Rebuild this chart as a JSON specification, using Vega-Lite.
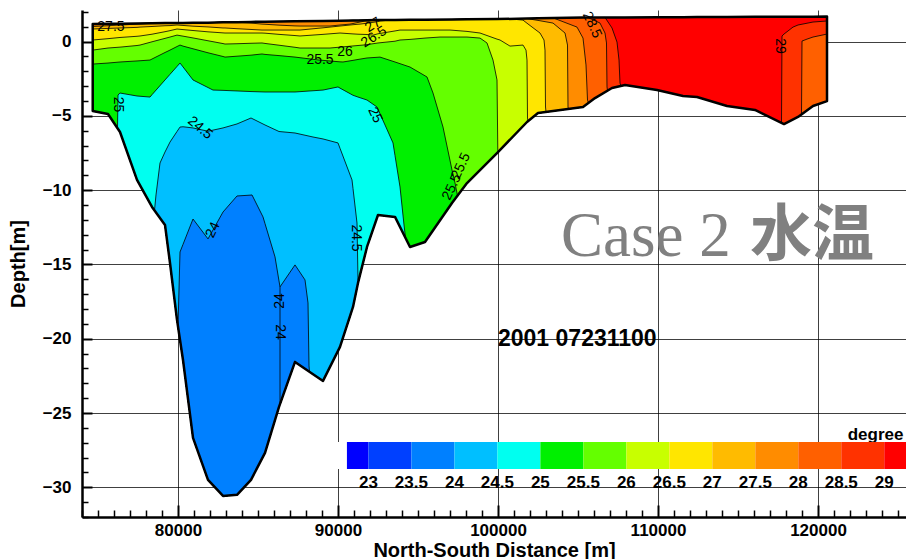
{
"$schema": "https://vega.github.io/schema/vega-lite/v6.json",
"width": 824, "height": 507,
"autosize": "none",
"padding": {"left": 82, "top": 10, "right": 0, "bottom": 42},
"config": {"view": {"stroke": null}, "font": "Liberation Sans"},
"datasets": {
"g": [
{"x":74670,"bot":-4.67,"d":1.18,"a29":1.18,"a285":1.18,"a28":1.18,"a275":1.02,"a27":0.85,"a265":0.11,"a26":-0.57,"a255":-1.51},
{"x":75625,"bot":-4.87,"d":1.2,"a29":1.2,"a285":1.2,"a28":1.2,"a275":1.07,"a27":0.89,"a265":0.2,"a26":-0.43,"a255":-1.44},
{"x":76219,"bot":-5.83,"a25":-5.83},
{"x":76250,"bot":-5.88,"a25":-3.59},
{"x":76375,"bot":-6.08,"d":1.21,"a29":1.21,"a285":1.21,"a28":1.21,"a275":1.12,"a27":0.92,"a265":0.28,"a26":-0.37,"a255":-1.37,"a25":-3.46},
{"x":77438,"bot":-9.31,"d":1.22,"a29":1.22,"a285":1.22,"a28":1.22,"a275":1.18,"a27":0.96,"a265":0.36,"a26":-0.26,"a255":-1.3,"a25":-3.66},
{"x":77625,"bot":-9.68,"a27":0.98,"a265":0.38,"a26":-0.23},
{"x":78250,"bot":-10.89,"a275":1.23,"a255":-1.24,"a25":-3.73},
{"x":78375,"bot":-11.13,"d":1.23,"a29":1.23,"a285":1.23,"a28":1.23,"a275":1.23,"a27":1.02,"a265":0.5,"a26":-0.01,"a255":-1.17,"a25":-3.57},
{"x":78531,"bot":-11.37,"a245":-11.37},
{"x":78625,"bot":-11.5,"a245":-10.32},
{"x":78875,"bot":-11.88,"a245":-8.17},
{"x":79188,"bot":-12.34,"d":1.25,"a29":1.25,"a285":1.25,"a28":1.25,"a275":1.25,"a27":1.07,"a265":0.67,"a26":0.22,"a255":-0.73,"a25":-2.58,"a245":-7.43},
{"x":79500,"bot":-14.9,"d":1.25,"a29":1.25,"a285":1.25,"a28":1.25,"a275":1.25,"a27":1.08,"a265":0.74,"a26":0.31,"a255":-0.57,"a25":-2.2,"a245":-6.76},
{"x":79938,"bot":-18.73,"d":1.25,"a29":1.25,"a285":1.25,"a28":1.25,"a275":1.25,"a27":1.12,"a265":0.85,"a26":0.44,"a255":-0.33,"a25":-1.67,"a245":-6.05},
{"x":80000,"bot":-19.18,"a24":-19.18},
{"x":80125,"bot":-20.08,"a255":-0.23,"a25":-1.44,"a245":-5.75,"a24":-14.16},
{"x":80313,"bot":-21.43,"d":1.26,"a29":1.26,"a285":1.26,"a28":1.26,"a275":1.26,"a27":1.09,"a265":0.81,"a26":0.37,"a255":-0.3,"a25":-1.7,"a245":-5.73,"a24":-13.65},
{"x":80938,"bot":-26.67,"d":1.27,"a29":1.27,"a285":1.27,"a28":1.27,"a275":1.27,"a27":1.04,"a265":0.75,"a26":0.25,"a255":-0.48,"a25":-2.58,"a245":-5.81,"a24":-11.94},
{"x":81875,"bot":-29.5,"d":1.28,"a29":1.28,"a285":1.28,"a28":1.28,"a275":1.28,"a27":0.99,"a265":0.66,"a26":0.06,"a255":-0.75,"a25":-3.09,"a245":-6.03,"a24":-13.28},
{"x":82188,"bot":-29.86,"a25":-3.26},
{"x":82813,"bot":-30.58,"d":1.3,"a29":1.3,"a285":1.3,"a28":1.3,"a275":1.3,"a27":0.92,"a265":0.59,"a26":-0.13,"a255":-1.0,"a25":-3.28,"a245":-5.81,"a24":-11.47},
{"x":82938,"bot":-30.57,"a27":0.92,"a265":0.58,"a26":-0.16,"a255":-1.04},
{"x":83688,"bot":-30.51,"d":1.31,"a29":1.31,"a285":1.31,"a28":1.31,"a275":1.31,"a27":0.87,"a265":0.58,"a26":-0.14,"a255":-0.98,"a25":-3.32,"a245":-5.54,"a24":-10.39},
{"x":84563,"bot":-29.5,"d":1.33,"a29":1.33,"a285":1.33,"a28":1.33,"a275":1.25,"a27":0.82,"a265":0.58,"a26":-0.11,"a255":-0.91,"a25":-3.36,"a245":-5.14,"a24":-10.33},
{"x":84625,"bot":-29.37,"a24":-10.32},
{"x":85250,"bot":-28.07,"a275":1.18,"a27":0.78,"a265":0.58,"a26":-0.09,"a255":-0.83},
{"x":85313,"bot":-27.95,"a24":-11.8},
{"x":85438,"bot":-27.68,"d":1.34,"a29":1.34,"a285":1.34,"a28":1.34,"a275":1.17,"a27":0.78,"a265":0.57,"a26":-0.12,"a255":-0.86,"a25":-3.39,"a245":-5.61,"a24":-12.25},
{"x":86063,"bot":-25.47,"a24":-14.49},
{"x":86313,"bot":-24.59,"d":1.35,"a29":1.35,"a285":1.35,"a28":1.35,"a275":1.11,"a27":0.78,"a265":0.49,"a26":-0.24,"a255":-0.94,"a25":-3.39,"a245":-6.05,"a24":-16.11},
{"x":86375,"bot":-24.4,"a24":-16.51},
{"x":87313,"bot":-21.56,"d":1.37,"a29":1.37,"a285":1.37,"a28":1.37,"a275":1.06,"a27":0.78,"a265":0.41,"a26":-0.38,"a255":-1.04,"a25":-3.39,"a245":-6.15,"a24":-15.03},
{"x":87625,"bot":-21.79,"a275":1.05,"a27":0.78,"a265":0.38,"a26":-0.43},
{"x":87938,"bot":-22.02,"a24":-16.04},
{"x":88125,"bot":-22.15,"a24":-17.59},
{"x":88188,"bot":-22.2,"a24":-21.83},
{"x":88219,"bot":-22.22,"a24":-22.22},
{"x":88438,"bot":-22.38,"a245":-6.42},
{"x":88813,"bot":-22.66,"a255":-1.24},
{"x":89063,"bot":-22.84,"d":1.39,"a29":1.39,"a285":1.39,"a28":1.39,"a275":1.05,"a27":0.93,"a265":0.49,"a26":-0.43,"a255":-1.26,"a25":-3.26,"a245":-6.55},
{"x":89500,"bot":-21.9,"a275":1.05,"a27":0.98,"a26":-0.43},
{"x":90000,"bot":-20.82,"a25":-3.05,"a245":-6.82},
{"x":90125,"bot":-20.55,"d":1.41,"a29":1.41,"a285":1.41,"a28":1.41,"a275":1.12,"a27":1.05,"a265":0.58,"a26":-0.37,"a255":-1.36,"a25":-3.13,"a245":-7.18},
{"x":90313,"bot":-19.93,"a255":-1.37},
{"x":90750,"bot":-18.48,"a275":1.18},
{"x":90875,"bot":-18.07,"a245":-9.31},
{"x":90938,"bot":-17.86,"d":1.43,"a29":1.43,"a285":1.43,"a28":1.43,"a275":1.22,"a27":1.14,"a265":0.52,"a26":-0.29,"a255":-1.26,"a25":-3.61,"a245":-9.89},
{"x":91188,"bot":-16.57,"a245":-12.21},
{"x":91250,"bot":-16.24,"d":1.43,"a29":1.43,"a285":1.43,"a28":1.43,"a275":1.29,"a27":1.17,"a265":0.5,"a26":-0.26,"a255":-1.2,"a25":-3.73,"a245":-16.04},
{"x":91281,"bot":-16.11,"a245":-16.11},
{"x":91375,"bot":-15.71,"a27":1.18},
{"x":91563,"bot":-14.9,"a26":-0.23},
{"x":91688,"bot":-14.36,"a275":1.39},
{"x":91813,"bot":-13.82,"d":1.44,"a29":1.44,"a285":1.44,"a28":1.44,"a275":1.39,"a27":1.24,"a265":0.48,"a26":-0.2,"a255":-1.1,"a25":-3.93},
{"x":92188,"bot":-12.64,"a265":0.44},
{"x":92438,"bot":-11.86,"a25":-4.4},
{"x":92500,"bot":-11.67,"d":1.45,"a29":1.45,"a285":1.45,"a28":1.45,"a275":1.45,"a27":1.35,"a265":0.53,"a26":-0.09,"a255":-1.05,"a25":-4.56},
{"x":92625,"bot":-11.68,"a27":1.39,"a255":-1.04},
{"x":92938,"bot":-11.72,"a25":-5.61},
{"x":93250,"bot":-11.76,"a27":1.45},
{"x":93438,"bot":-11.79,"a25":-6.82},
{"x":93563,"bot":-11.8,"d":1.46,"a29":1.46,"a285":1.46,"a28":1.46,"a275":1.46,"a27":1.46,"a265":0.72,"a26":0.03,"a255":-1.37,"a25":-7.67},
{"x":93875,"bot":-12.48,"a265":0.78,"a26":0.11,"a25":-9.78},
{"x":94125,"bot":-13.01,"a25":-12.34},
{"x":94219,"bot":-13.22,"a25":-13.22},
{"x":94500,"bot":-13.82,"d":1.47,"a29":1.47,"a285":1.47,"a28":1.47,"a275":1.47,"a27":1.47,"a265":0.78,"a26":0.15,"a255":-1.71},
{"x":95438,"bot":-13.49,"d":1.48,"a29":1.48,"a285":1.48,"a28":1.48,"a275":1.48,"a27":1.48,"a265":0.78,"a26":0.24,"a255":-2.3},
{"x":95563,"bot":-13.29,"a255":-2.38},
{"x":95938,"bot":-12.7,"a255":-3.46},
{"x":96375,"bot":-12.03,"a26":0.31},
{"x":96563,"bot":-11.74,"a255":-5.75},
{"x":97000,"bot":-11.06,"a265":0.78},
{"x":97125,"bot":-10.86,"d":1.49,"a29":1.49,"a285":1.49,"a28":1.49,"a275":1.49,"a27":1.49,"a265":0.77,"a26":0.31,"a255":-8.64},
{"x":97313,"bot":-10.59,"a255":-9.51},
{"x":97469,"bot":-10.37,"a255":-10.37},
{"x":98063,"bot":-9.52,"d":1.5,"a29":1.5,"a285":1.5,"a28":1.5,"a275":1.5,"a27":1.5,"a265":0.69,"a26":0.31},
{"x":98875,"bot":-8.64,"a265":0.58,"a26":0.24},
{"x":99313,"bot":-8.17,"a26":-0.09},
{"x":99688,"bot":-7.77,"a26":-1.24},
{"x":99938,"bot":-7.5,"d":1.52,"a29":1.52,"a285":1.52,"a28":1.52,"a275":1.52,"a27":1.52,"a265":0.17,"a26":-2.58},
{"x":99988,"bot":-7.44,"a26":-7.29},
{"x":100019,"bot":-7.41,"a26":-7.41},
{"x":100125,"bot":-7.29,"a265":0.11},
{"x":100750,"bot":-6.59,"a27":1.53,"a265":-0.3},
{"x":101563,"bot":-5.69,"a27":1.45,"a265":-0.23},
{"x":101750,"bot":-5.48,"a265":-0.57},
{"x":101813,"bot":-5.41,"d":1.55,"a29":1.55,"a285":1.55,"a28":1.55,"a275":1.55,"a27":1.24,"a265":-1.24},
{"x":101844,"bot":-5.38,"a265":-5.14},
{"x":101875,"bot":-5.36,"a265":-5.36},
{"x":102500,"bot":-4.81,"d":1.57,"a29":1.57,"a285":1.57,"a28":1.57,"a275":1.43,"a27":0.68},
{"x":102625,"bot":-4.78,"a27":0.58},
{"x":102875,"bot":-4.75,"a27":0.11},
{"x":102938,"bot":-4.74,"a27":-0.57},
{"x":102969,"bot":-4.74,"a27":-4.4},
{"x":103000,"bot":-4.73,"a27":-4.73},
{"x":103438,"bot":-4.67,"a28":1.6,"a275":1.25},
{"x":104188,"bot":-4.56,"a275":0.58},
{"x":104344,"bot":-4.54,"a275":-0.23},
{"x":104375,"bot":-4.54,"a275":-4.4},
{"x":104406,"bot":-4.53,"a275":-4.53},
{"x":104938,"bot":-4.46,"a28":0.98},
{"x":105313,"bot":-4.4,"d":1.62,"a29":1.62,"a285":1.62,"a28":0.24},
{"x":105500,"bot":-4.25,"a28":-1.57},
{"x":105594,"bot":-4.17,"a28":-3.93},
{"x":105625,"bot":-4.15,"a285":1.62},
{"x":105656,"bot":-4.13,"a28":-4.13},
{"x":106063,"bot":-3.8,"d":1.62,"a29":1.62,"a285":1.41},
{"x":106375,"bot":-3.6,"a285":1.25},
{"x":106688,"bot":-3.4,"a29":1.63,"a285":0.58},
{"x":106781,"bot":-3.34,"a285":-0.09},
{"x":106813,"bot":-3.32,"a285":-3.05},
{"x":106844,"bot":-3.3,"a285":-3.3},
{"x":107125,"bot":-3.12,"d":1.63,"a29":0.92},
{"x":107438,"bot":-3.04,"a29":-0.03},
{"x":107563,"bot":-3.02,"a29":-1.24},
{"x":107625,"bot":-3.0,"a29":-2.79},
{"x":107688,"bot":-2.98,"a29":-2.98},
{"x":107938,"bot":-2.92,"d":1.63},
{"x":109938,"bot":-3.26,"d":1.64},
{"x":111563,"bot":-3.66,"d":1.65},
{"x":112438,"bot":-3.73,"d":1.66},
{"x":114313,"bot":-4.33,"d":1.66},
{"x":116063,"bot":-4.6,"d":1.67},
{"x":117719,"bot":-5.46,"b29":-5.46},
{"x":117750,"bot":-5.48,"b29":0.38},
{"x":117875,"bot":-5.55,"d":1.68,"b29":0.51},
{"x":118438,"bot":-5.24,"b29":0.98},
{"x":118750,"bot":-5.07,"d":1.68,"b29":1.12},
{"x":118969,"bot":-4.9,"b285":-4.9},
{"x":119000,"bot":-4.88,"b285":0.04},
{"x":119313,"bot":-4.63,"b285":0.17},
{"x":119688,"bot":-4.33,"d":1.68,"b29":1.32,"b285":0.31},
{"x":120563,"bot":-4.0,"d":1.69,"b29":1.39,"b285":0.51}
]
},
"resolve": {"axis": {"x": "independent", "y": "independent"}},
"layer": [
{
"data": {"name": "g"},
"transform": [
{"fold": ["d","a29","a285","a28","a275","a27","a265","a26","a255","a25","a245","a24","b29"], "as": ["key","top"]},
{"filter": "isValid(datum.top)"},
{"lookup": "key", "from": {"data": {"values": [
{"key":"d","t":29},{"key":"a29","t":28.5},{"key":"a285","t":28},{"key":"a28","t":27.5},{"key":"a275","t":27},{"key":"a27","t":26.5},{"key":"a265","t":26},{"key":"a26","t":25.5},{"key":"a255","t":25},{"key":"a25","t":24.5},{"key":"a245","t":24},{"key":"a24","t":23.5},{"key":"b29","t":28.5}
]}, "key": "key", "fields": ["t"]}}
],
"mark": {"type": "area", "stroke": "black", "strokeWidth": 0.8, "interpolate": "linear"},
"encoding": {
"x": {"field": "x", "type": "quantitative", "scale": {"domain": [74000, 125500], "nice": false, "zero": false},
 "axis": {"orient": "bottom", "values": [80000, 90000, 100000, 110000, 120000], "format": "d",
  "title": "North-South Distance [m]", "titleFont": "Liberation Sans", "titleFontSize": 20, "titleFontWeight": "bold", "titleColor": "black", "titlePadding": 2,
  "labelFont": "Liberation Sans", "labelFontSize": 17, "labelFontWeight": "bold", "labelColor": "black", "labelPadding": 17, "labelFlush": false, "labelOverlap": false,
  "tickSize": -12, "tickWidth": 2, "tickColor": "black", "domainColor": "black", "domainWidth": 2.5,
  "grid": true, "gridColor": "black", "gridWidth": 1, "gridOpacity": 0.75}},
"y": {"field": "top", "type": "quantitative", "stack": null, "scale": {"domain": [-32, 2.13], "nice": false, "zero": false},
 "axis": {"orient": "left", "values": [-30, -25, -20, -15, -10, -5, 0],
  "title": "Depth[m]", "titleFont": "Liberation Sans", "titleFontSize": 20, "titleFontWeight": "bold", "titleColor": "black", "titlePadding": 14,
  "labelFont": "Liberation Sans", "labelFontSize": 17, "labelFontWeight": "bold", "labelColor": "black", "labelPadding": 21, "labelFlush": false, "labelOverlap": false,
  "tickSize": -10, "tickWidth": 2, "tickColor": "black", "domainColor": "black", "domainWidth": 2.5,
  "grid": true, "gridColor": "black", "gridWidth": 1, "gridOpacity": 0.75}},
"y2": {"field": "bot"},
"detail": {"field": "key"},
"color": {"field": "t", "type": "quantitative",
 "scale": {"type": "threshold", "domain": [22.75, 23, 23.5, 24, 24.5, 25, 25.5, 26, 26.5, 27, 27.5, 28, 28.5, 29],
  "range": ["#ffffff", "#0000ff", "#0040ff", "#0080ff", "#00bfff", "#00fff0", "#00f000", "#64ff00", "#c8ff00", "#ffe600", "#ffbb00", "#ff8c00", "#ff6000", "#ff3200", "#ff0000"]},
 "legend": {"type": "gradient", "orient": "none", "legendX": 223.6, "legendY": 432, "direction": "horizontal", "title": null, "padding": 0,
  "gradientLength": 620, "gradientThickness": 27, "gradientStrokeWidth": 0,
  "format": "~g", "labelExpr": "datum.value < 22.9 ? '' : datum.label", "labelOverlap": false,
  "labelFont": "Liberation Sans", "labelFontSize": 17, "labelFontWeight": "bold", "labelColor": "black", "labelOffset": 6}}
}
},
{
"data": {"name": "g"},
"transform": [
{"fold": ["b285"], "as": ["key","top"]},
{"filter": "isValid(datum.top)"},
{"lookup": "key", "from": {"data": {"values": [{"key":"b285","t":28}]}, "key": "key", "fields": ["t"]}}
],
"mark": {"type": "area", "stroke": "black", "strokeWidth": 0.8, "interpolate": "linear"},
"encoding": {
"x": {"field": "x", "type": "quantitative", "scale": {"domain": [74000, 125500], "nice": false, "zero": false}, "axis": null},
"y": {"field": "top", "type": "quantitative", "stack": null, "scale": {"domain": [-32, 2.13], "nice": false, "zero": false}, "axis": null},
"y2": {"field": "bot"},
"color": {"field": "t", "type": "quantitative",
 "scale": {"type": "threshold", "domain": [22.75, 23, 23.5, 24, 24.5, 25, 25.5, 26, 26.5, 27, 27.5, 28, 28.5, 29],
  "range": ["#ffffff", "#0000ff", "#0040ff", "#0080ff", "#00bfff", "#00fff0", "#00f000", "#64ff00", "#c8ff00", "#ffe600", "#ffbb00", "#ff8c00", "#ff6000", "#ff3200", "#ff0000"]},
 "legend": null}
}
},
{
"data": {"name": "g"},
"transform": [{"filter": "isValid(datum.d)"}],
"mark": {"type": "area", "fillOpacity": 0, "stroke": "black", "strokeWidth": 2.5, "strokeJoin": "round", "interpolate": "linear"},
"encoding": {
"x": {"field": "x", "type": "quantitative", "scale": {"domain": [74000, 125500], "nice": false, "zero": false},
 "axis": {"orient": "bottom", "values": [74000,75000,76000,77000,78000,79000,81000,82000,83000,84000,85000,86000,87000,88000,89000,91000,92000,93000,94000,95000,96000,97000,98000,99000,101000,102000,103000,104000,105000,106000,107000,108000,109000,111000,112000,113000,114000,115000,116000,117000,118000,119000,121000,122000,123000,124000,125000],
  "labels": false, "title": null, "grid": false, "domain": false, "tickSize": -7, "tickWidth": 1.5, "tickColor": "black"}},
"y": {"field": "d", "type": "quantitative", "stack": null, "scale": {"domain": [-32, 2.13], "nice": false, "zero": false},
 "axis": {"orient": "left", "values": [-32,-31,-29,-28,-27,-26,-24,-23,-22,-21,-19,-18,-17,-16,-14,-13,-12,-11,-9,-8,-7,-6,-4,-3,-2,-1,1,2],
  "labels": false, "title": null, "grid": false, "domain": false, "tickSize": -6, "tickWidth": 1.5, "tickColor": "black"}},
"y2": {"field": "bot"}
}
},
{
"data": {"values": [{"x": 86375, "y": -16.51, "y2": -24.4}]},
"mark": {"type": "rule", "stroke": "black", "strokeWidth": 0.8},
"encoding": {
"x": {"field": "x", "type": "quantitative", "scale": {"domain": [74000, 125500], "nice": false, "zero": false}, "axis": null},
"y": {"field": "y", "type": "quantitative", "scale": {"domain": [-32, 2.13], "nice": false, "zero": false}, "axis": null},
"y2": {"field": "y2"}
}
},
{
"data": {"values": [{"x":76219,"y":-4.23,"label":"25"},{"x":86375,"y":-19.54,"label":"24"},{"x":91125,"y":-13.22,"label":"24.5"},{"x":117625,"y":-0.3,"label":"29"}]},
"mark": {"type": "text", "angle": 90, "font": "Liberation Sans", "fontSize": 14, "align": "center", "baseline": "middle", "color": "black"},
"encoding": {
"x": {"field": "x", "type": "quantitative", "scale": {"domain": [74000, 125500], "nice": false, "zero": false}, "axis": null},
"y": {"field": "y", "type": "quantitative", "scale": {"domain": [-32, 2.13], "nice": false, "zero": false}, "axis": null},
"text": {"field": "label"}
}
},
{
"data": {"values": [{"x":86375,"y":-17.46,"label":"24"}]},
"mark": {"type": "text", "angle": 270, "font": "Liberation Sans", "fontSize": 14, "align": "center", "baseline": "middle", "color": "black"},
"encoding": {
"x": {"field": "x", "type": "quantitative", "scale": {"domain": [74000, 125500], "nice": false, "zero": false}, "axis": null},
"y": {"field": "y", "type": "quantitative", "scale": {"domain": [-32, 2.13], "nice": false, "zero": false}, "axis": null},
"text": {"field": "label"}
}
},
{
"data": {"values": [{"x":75810,"y":0.98,"label":"27.5"},{"x":88875,"y":-1.24,"label":"25.5"},{"x":90438,"y":-0.7,"label":"26"}]},
"mark": {"type": "text", "angle": 0, "font": "Liberation Sans", "fontSize": 14, "align": "center", "baseline": "middle", "color": "black"},
"encoding": {
"x": {"field": "x", "type": "quantitative", "scale": {"domain": [74000, 125500], "nice": false, "zero": false}, "axis": null},
"y": {"field": "y", "type": "quantitative", "scale": {"domain": [-32, 2.13], "nice": false, "zero": false}, "axis": null},
"text": {"field": "label"}
}
},
{
"data": {"values": [{"x":92250,"y":0.31,"label":"26.5"},{"x":92188,"y":1.12,"label":"27"}]},
"mark": {"type": "text", "angle": -32, "font": "Liberation Sans", "fontSize": 14, "align": "center", "baseline": "middle", "color": "black"},
"encoding": {
"x": {"field": "x", "type": "quantitative", "scale": {"domain": [74000, 125500], "nice": false, "zero": false}, "axis": null},
"y": {"field": "y", "type": "quantitative", "scale": {"domain": [-32, 2.13], "nice": false, "zero": false}, "axis": null},
"text": {"field": "label"}
}
},
{
"data": {"values": [{"x":81375,"y":-5.81,"label":"24.5"}]},
"mark": {"type": "text", "angle": 40, "font": "Liberation Sans", "fontSize": 14, "align": "center", "baseline": "middle", "color": "black"},
"encoding": {
"x": {"field": "x", "type": "quantitative", "scale": {"domain": [74000, 125500], "nice": false, "zero": false}, "axis": null},
"y": {"field": "y", "type": "quantitative", "scale": {"domain": [-32, 2.13], "nice": false, "zero": false}, "axis": null},
"text": {"field": "label"}
}
},
{
"data": {"values": [{"x":82188,"y":-12.68,"label":"24"},{"x":97125,"y":-9.79,"label":"25.5"},{"x":97688,"y":-8.37,"label":"25.5"}]},
"mark": {"type": "text", "angle": -65, "font": "Liberation Sans", "fontSize": 14, "align": "center", "baseline": "middle", "color": "black"},
"encoding": {
"x": {"field": "x", "type": "quantitative", "scale": {"domain": [74000, 125500], "nice": false, "zero": false}, "axis": null},
"y": {"field": "y", "type": "quantitative", "scale": {"domain": [-32, 2.13], "nice": false, "zero": false}, "axis": null},
"text": {"field": "label"}
}
},
{
"data": {"values": [{"x":92313,"y":-4.94,"label":"25"},{"x":105875,"y":1.12,"label":"28.5"}]},
"mark": {"type": "text", "angle": 65, "font": "Liberation Sans", "fontSize": 14, "align": "center", "baseline": "middle", "color": "black"},
"encoding": {
"x": {"field": "x", "type": "quantitative", "scale": {"domain": [74000, 125500], "nice": false, "zero": false}, "axis": null},
"y": {"field": "y", "type": "quantitative", "scale": {"domain": [-32, 2.13], "nice": false, "zero": false}, "axis": null},
"text": {"field": "label"}
}
},
{
"data": {"values": [{"x":103940,"y":-14.45,"label":"Case 2"}]},
"mark": {"type": "text", "font": "Liberation Serif", "fontSize": 63, "align": "left", "baseline": "alphabetic", "color": "#808080"},
"encoding": {
"x": {"field": "x", "type": "quantitative", "scale": {"domain": [74000, 125500], "nice": false, "zero": false}, "axis": null},
"y": {"field": "y", "type": "quantitative", "scale": {"domain": [-32, 2.13], "nice": false, "zero": false}, "axis": null},
"text": {"field": "label"}
}
},
{
"data": {"values": [{"x":115750,"y":-14.45,"label":"水温"}]},
"mark": {"type": "text", "font": "Noto Sans CJK JP", "fontSize": 62, "fontWeight": "bold", "align": "left", "baseline": "alphabetic", "color": "#808080"},
"encoding": {
"x": {"field": "x", "type": "quantitative", "scale": {"domain": [74000, 125500], "nice": false, "zero": false}, "axis": null},
"y": {"field": "y", "type": "quantitative", "scale": {"domain": [-32, 2.13], "nice": false, "zero": false}, "axis": null},
"text": {"field": "label"}
}
},
{
"data": {"values": [{"x":100000,"y":-20.48,"label":"2001 07231100"}]},
"mark": {"type": "text", "font": "Liberation Sans", "fontSize": 23, "fontWeight": "bold", "align": "left", "baseline": "alphabetic", "color": "black"},
"encoding": {
"x": {"field": "x", "type": "quantitative", "scale": {"domain": [74000, 125500], "nice": false, "zero": false}, "axis": null},
"y": {"field": "y", "type": "quantitative", "scale": {"domain": [-32, 2.13], "nice": false, "zero": false}, "axis": null},
"text": {"field": "label"}
}
},
{
"data": {"values": [{"x":125340,"y":-26.47,"label":"degree"}]},
"mark": {"type": "text", "font": "Liberation Sans", "fontSize": 17, "fontWeight": "bold", "align": "right", "baseline": "middle", "color": "black"},
"encoding": {
"x": {"field": "x", "type": "quantitative", "scale": {"domain": [74000, 125500], "nice": false, "zero": false}, "axis": null},
"y": {"field": "y", "type": "quantitative", "scale": {"domain": [-32, 2.13], "nice": false, "zero": false}, "axis": null},
"text": {"field": "label"}
}
}
]
}
